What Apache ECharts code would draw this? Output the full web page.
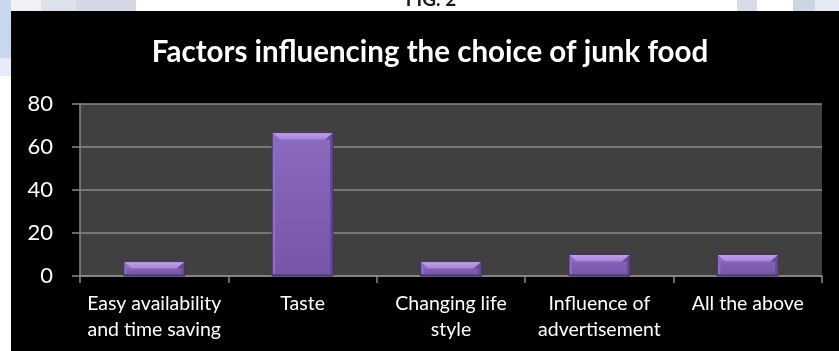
<!DOCTYPE html>
<html>
<head>
<meta charset="utf-8">
<title>Factors influencing the choice of junk food</title>
<script src="https://cdn.jsdelivr.net/npm/echarts@6/dist/echarts.min.js"></script>
<style>
  html, body { margin: 0; padding: 0; background: #ffffff; }
  #chart { width: 839px; height: 351px; }
</style>
</head>
<body>
<div id="chart"></div>
<script>
// Survey responses (percent of respondents) per factor
const categories = [
  'Easy availability\nand time saving',
  'Taste',
  'Changing life\nstyle',
  'Influence of\nadvertisement',
  'All the above'
];
const percentages = [6.7, 66.7, 6.7, 10, 10];
const yTicks = [0, 20, 40, 60, 80];

const FONT = 'Lato, "Open Sans", sans-serif';
const GRID_GRAY = '#8a8a8a';

// Bevelled bar: flat face, lighter top chamfer, shaded sides
function renderBevelBar(params, api) {
  const idx = api.value(0);
  const val = api.value(1);
  const topPt = api.coord([idx, val]);
  const basePt = api.coord([idx, 0]);
  const w = api.size([1, 0])[0] * 0.41;
  const l = topPt[0] - w / 2;
  const r = topPt[0] + w / 2;
  const t = topPt[1];
  const b = basePt[1];
  const h = b - t;
  const bt = Math.min(7, h / 2);
  const bs = 8;
  const side = 3;
  return {
    type: 'group',
    children: [
      {
        type: 'rect',
        shape: { x: l, y: t, width: w, height: h },
        style: {
          fill: new echarts.graphic.LinearGradient(0, 0, 0, 1, [
            { offset: 0, color: '#8c6abf' },
            { offset: 1, color: '#7656a9' }
          ])
        }
      },
      {
        type: 'polygon',
        shape: { points: [[l, t], [l + bs, t + bt], [l + side, t + bt], [l + side, b], [l, b]] },
        style: { fill: '#8f6dc2' }
      },
      {
        type: 'polygon',
        shape: { points: [[r, t], [r - bs, t + bt], [r - side, t + bt], [r - side, b], [r, b]] },
        style: { fill: '#664a96' }
      },
      {
        type: 'polygon',
        shape: { points: [[l, t], [r, t], [r - bs, t + bt], [l + bs, t + bt]] },
        style: {
          fill: new echarts.graphic.LinearGradient(0, 0, 0, 1, [
            { offset: 0, color: '#c0a2ee' },
            { offset: 1, color: '#a583d8' }
          ])
        }
      },
      {
        type: 'rect',
        shape: { x: l, y: b - 2, width: w, height: 2 },
        style: { fill: '#5d4389' }
      },
      {
        type: 'rect',
        shape: { x: l, y: t, width: w, height: h },
        style: { fill: 'none', stroke: '#45325f', lineWidth: 1 }
      }
    ]
  };
}

const chart = echarts.init(document.getElementById('chart'), null, { renderer: 'canvas' });

chart.setOption({
  backgroundColor: '#000000',
  animation: false,
  graphic: [
    // page margin around the dark panel
    { type: 'rect', shape: { x: 0, y: 0, width: 839, height: 11 }, style: { fill: '#ffffff' } },
    { type: 'rect', shape: { x: 0, y: 0, width: 11, height: 351 }, style: { fill: '#ffffff' } },
    // faint background tint of the page
    { type: 'rect', shape: { x: 0, y: 0, width: 11, height: 58 }, style: { fill: '#c9d8f1' } },
    { type: 'rect', shape: { x: 0, y: 58, width: 11, height: 18 }, style: { fill: '#e6edf8' } },
    { type: 'rect', shape: { x: 11, y: 0, width: 30, height: 11 }, style: { fill: '#f0f2f7' } },
    { type: 'rect', shape: { x: 41, y: 0, width: 35, height: 11 }, style: { fill: '#dde1ea' } },
    { type: 'rect', shape: { x: 76, y: 0, width: 60, height: 11 }, style: { fill: '#d3d8e4' } },
    { type: 'rect', shape: { x: 737, y: 0, width: 20, height: 11 }, style: { fill: '#d9dce5' } },
    { type: 'rect', shape: { x: 793, y: 0, width: 22, height: 11 }, style: { fill: '#cdd4e3' } },
    { type: 'rect', shape: { x: 815, y: 0, width: 24, height: 11 }, style: { fill: '#e6e9f0' } },
    {
      type: 'text',
      x: 431, y: 0,
      style: {
        text: 'FIG. 2',
        fill: '#1c1c1c',
        font: 'bold 19px ' + FONT,
        textAlign: 'center',
        verticalAlign: 'middle'
      }
    },
    // keep the caption clipped at the panel edge
    { type: 'rect', shape: { x: 11, y: 11, width: 828, height: 10 }, style: { fill: '#000000' } },
    {
      type: 'text',
      x: 430, y: 52,
      style: {
        text: 'Factors influencing the choice of junk food',
        fill: '#ffffff',
        font: 'bold 29.5px ' + FONT,
        textAlign: 'center',
        verticalAlign: 'middle'
      }
    }
  ],
  grid: {
    left: 80,
    right: 17,
    top: 104,
    bottom: 75,
    show: true,
    backgroundColor: '#404040',
    borderWidth: 0,
    containLabel: false,
    outerBoundsMode: 'none'
  },
  xAxis: {
    type: 'category',
    data: categories,
    boundaryGap: true,
    axisLine: { show: true, lineStyle: { color: GRID_GRAY, width: 1.5 } },
    axisTick: { show: true, length: 7, lineStyle: { color: GRID_GRAY, width: 1.5 } },
    axisLabel: {
      interval: 0,
      color: '#ffffff',
      fontFamily: FONT,
      fontSize: 19.5,
      lineHeight: 25.5,
      margin: 15
    },
    splitLine: { show: false }
  },
  yAxis: {
    type: 'value',
    min: yTicks[0],
    max: yTicks[yTicks.length - 1],
    interval: yTicks[1] - yTicks[0],
    axisLine: { show: true, lineStyle: { color: GRID_GRAY, width: 1.5 } },
    axisTick: { show: true, length: 8, lineStyle: { color: GRID_GRAY, width: 1.5 } },
    axisLabel: {
      color: '#ffffff',
      fontFamily: FONT,
      fontSize: 22,
      margin: 27
    },
    splitLine: { show: true, lineStyle: { color: GRID_GRAY, width: 1.5 } }
  },
  series: [
    {
      type: 'custom',
      name: 'Respondents (%)',
      renderItem: renderBevelBar,
      encode: { x: 0, y: 1 },
      data: percentages.map((v, i) => [i, v]),
      z: 3
    }
  ]
});
</script>
</body>
</html>
